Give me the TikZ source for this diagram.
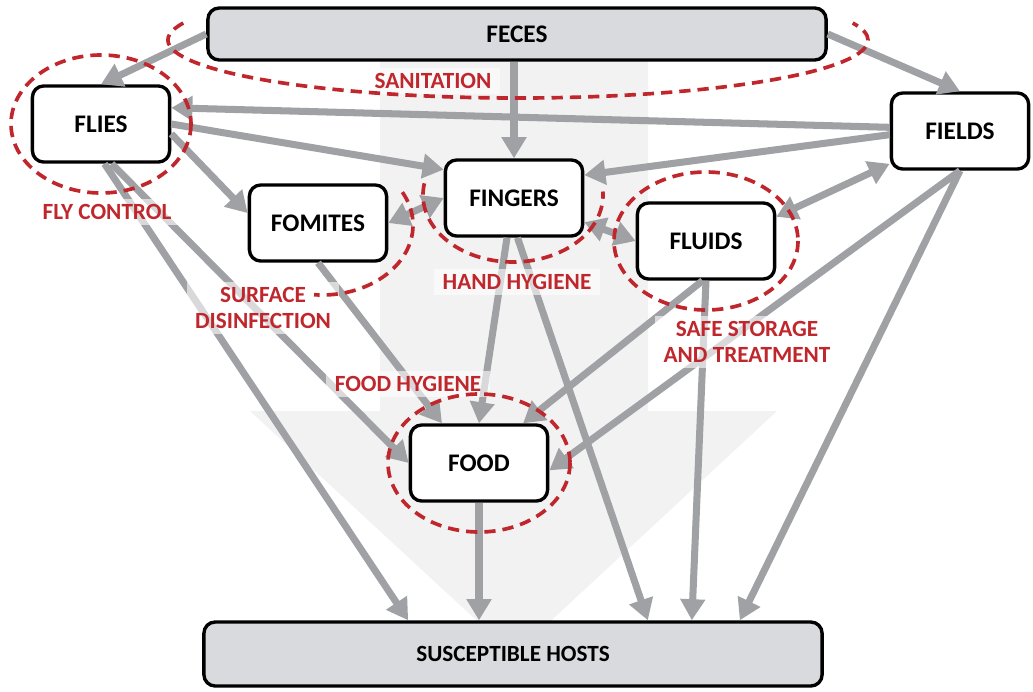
\documentclass[tikz,border=0pt]{standalone}
\usepackage{fontspec}
\setmainfont{Carlito}
\usetikzlibrary{arrows.meta}
\definecolor{arrowgray}{RGB}{160,161,165}
\definecolor{boxgray}{RGB}{217,218,221}
\definecolor{ringred}{RGB}{192,39,45}
\definecolor{bigarrow}{RGB}{242,242,242}

\begin{document}
\begin{tikzpicture}[x=0.025cm, y=-0.025cm,
  fbox/.style={draw=black, line width=2.4pt, rounded corners=8pt, fill=white, inner sep=0pt,
    font=\fontsize{18}{21}\selectfont\bfseries, minimum width=3.43cm, minimum height=1.9cm},
  widebox/.style={fbox, fill=boxgray, minimum width=15.45cm, minimum height=1.3cm},
  route/.style={draw=arrowgray, line width=5pt, -{Triangle[width=17pt,length=15pt]}},
  twoway/.style={route, {Triangle[width=17pt,length=15pt]}-{Triangle[width=17pt,length=15pt]}},
  ring/.style={draw=ringred, line width=2.6pt, dash pattern=on 8pt off 5pt},
  barrier/.style={text=ringred, font=\fontsize{16.5}{18.5}\selectfont\bfseries, align=center,
    fill=white, fill opacity=0.6, text opacity=1, inner xsep=6pt, inner ysep=4pt}]
\useasboundingbox (0,0) rectangle (1033,691);
% faint arrow behind everything
\fill[bigarrow] (380,60) -- (648,60) -- (648,411) -- (777,411) -- (514,655) -- (250,411) -- (380,411) -- cycle;

% the F boxes
\node[widebox] (feces) at (517,34) {FECES};
\node[widebox, minimum height=1.6cm, font=\fontsize{16.5}{19}\selectfont\bfseries] (hosts) at (513,654) {SUSCEPTIBLE HOSTS};
\node[fbox] (flies) at (101,124) {FLIES};
\node[fbox] (fields) at (960,131) {FIELDS};
\node[fbox] (fingers) at (514,198) {FINGERS};
\node[fbox] (fomites) at (318,223) {FOMITES};
\node[fbox] (fluids) at (706,241) {FLUIDS};
\node[fbox] (food) at (479,463) {FOOD};

% routes
\draw[route] (feces.west) -- (flies.north);
\draw[route] (feces.south -| fingers.north) -- (fingers.north);
\draw[route] (feces.east) -- (fields.north);
\draw[route] (fields.177) -- (flies.13);
\draw[route] (fields.183) -- (fingers.18);
\draw[route] (flies.east) -- (fingers.158);
\draw[route] (flies.-8) -- (fomites.172);
\draw[twoway] (fomites.east) -- (fingers.west);
\draw[twoway] (fingers.-19) -- (fluids.west);
\draw[twoway] (fluids.19) -- (fields.205);
\draw[route] (flies.-85) -- ([xshift=-2.62cm]hosts.north);
\draw[route] (flies.-75) -- (food.west);
\draw[route] (fomites.south) -- (food.133);
\draw[route] (fingers.-100) -- (food.north);
\draw[route] (fingers.-85) -- ([xshift=3.37cm]hosts.north);
\draw[route] (fluids.-95) -- (food.42);
\draw[route] (fluids.south) -- ([xshift=4.47cm]hosts.north);
\draw[route] (fields.south) -- (food.-6);
\draw[route] (fields.south) -- ([xshift=5.67cm]hosts.north);
\draw[route] (food.south) -- (food.south |- hosts.north);

% barriers
\node[barrier] (sanitation) at (433,81) {SANITATION};
\node[barrier] (flycontrol) at (107,212) {FLY CONTROL};
\node[barrier] (surface) at (263,308) {SURFACE\\DISINFECTION};
\node[barrier] (hand) at (517,282) {HAND HYGIENE};
\node[barrier] (storage) at (747,342) {SAFE STORAGE\\AND TREATMENT};
\node[barrier] (foodhyg) at (408,384) {FOOD HYGIENE};

\draw[ring] (518,40) ++(197:350 and 58) arc [start angle=197, end angle=-17, x radius=350, y radius=58];
\draw[ring] (flies.center) ellipse [x radius=90, y radius=69];
\draw[ring] (513,195) ++(190:90 and 67) arc [start angle=190, end angle=-3, x radius=90, y radius=67];
\draw[ring] (322,225) ++(-28:91 and 70) arc [start angle=-28, end angle=95, x radius=91, y radius=70];
\draw[ring] (fluids.center) ellipse [x radius=92, y radius=69];
\draw[ring] (food.center) ellipse [x radius=91, y radius=69];
\end{tikzpicture}
\end{document}
